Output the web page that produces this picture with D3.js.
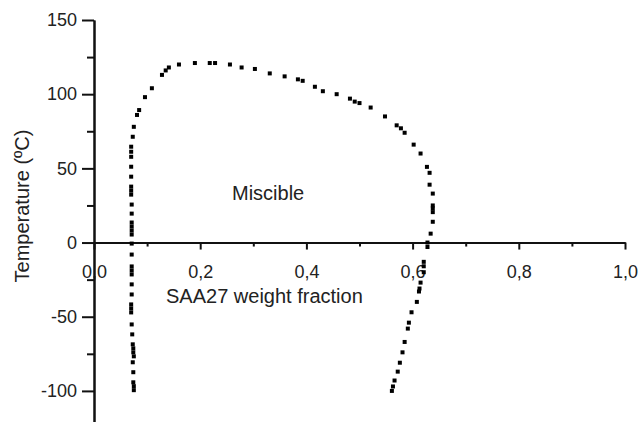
<!DOCTYPE html>
<html>
<head>
<meta charset="utf-8">
<script src="https://cdn.jsdelivr.net/npm/d3@7"></script>
<style>
	body { margin: 0; background: #fff; }
	svg { display: block; }
	text { font-family: "Liberation Sans", Arial, sans-serif; fill: #222; }
</style>
</head>
<body>
<svg class="viz" width="639" height="422"></svg>
<script>
// Cloud point curve (weight fraction / temperature in degC)
const fraction = [
	0.075, 0.075, 0.074, 0.074, 0.073, 0.075, 0.074, 0.074, 0.073, 0.072,
	0.071, 0.070, 0.070, 0.070, 0.071, 0.071, 0.071, 0.071, 0.071, 0.071,
	0.071, 0.071, 0.071, 0.071, 0.071, 0.071, 0.071, 0.070, 0.070, 0.070,
	0.070, 0.070, 0.070, 0.070, 0.070, 0.073, 0.075,
	0.081, 0.085, 0.096, 0.109, 0.128, 0.135, 0.141, 0.160, 0.190, 0.218,
	0.228, 0.256, 0.278, 0.303, 0.331, 0.359, 0.384, 0.393, 0.416, 0.431,
	0.457, 0.482, 0.491, 0.500, 0.521, 0.548, 0.570, 0.578, 0.585, 0.602,
	0.615, 0.627, 0.632, 0.632, 0.638, 0.638, 0.638, 0.638, 0.638, 0.634,
	0.628, 0.628, 0.621, 0.621, 0.621, 0.615, 0.613, 0.612, 0.608, 0.598,
	0.593, 0.591, 0.585, 0.581, 0.576, 0.572, 0.566, 0.563, 0.561
];
const temperature = [
	-99.5, -96.8, -94.2, -87.4, -80.7, -76.7, -74.0, -71.3, -68.6, -61.9,
	-55.2, -47.1, -44.4, -41.7, -35.0, -28.2, -21.5, -18.8, -16.1, -8.1,
	-0.7, 5.4, 8.1, 10.8, 13.5, 19.5, 25.6, 32.3, 35.0, 37.7,
	44.4, 51.1, 57.8, 61.2, 64.6, 71.3, 78.0,
	86, 89.3, 98, 104, 113, 116, 118, 120, 121, 121,
	121, 120, 118, 117, 114, 112, 110, 109, 105, 102,
	100, 97, 95, 94, 91, 85, 79, 77, 74, 66,
	60, 51, 47, 39, 33, 25, 23, 20.5, 14, 6,
	0, -3, -13, -16, -20, -27, -31, -33, -40, -47,
	-54, -58, -67, -74, -81, -87, -93, -97, -100
];

const xMajor = [0, 0.2, 0.4, 0.6, 0.8, 1.0];
const xMinor = [0.1, 0.3, 0.5, 0.7, 0.9];
const yMajor = [-100, -50, 0, 50, 100, 150];
const yMinor = [-125, -75, -25, 25, 75, 125];

const data = fraction.map((f, i) => ({ f: f, t: temperature[i] }));

let svg = d3.select(".viz");

let x = d3.scaleLinear().domain([0, 1]).range([94, 625]);
let y = d3.scaleLinear().domain([-125, 150]).range([428, 20]);

let comma = (d) => d3.format(".1f")(d).replace(".", ",");
let plain = (d) => String(d); // keep the ascii hyphen for negatives

// minor ticks first so the major axis sits on top
svg.append("g").attr("class", "xminor")
	.attr("transform", "translate(0," + y(0) + ")")
	.call(d3.axisBottom(x).tickValues(xMinor).tickSize(4).tickSizeOuter(0).tickFormat(""));

svg.append("g").attr("class", "yminor")
	.attr("transform", "translate(" + x(0) + ",0)")
	.call(d3.axisLeft(y).tickValues(yMinor).tickSize(7).tickSizeOuter(0).tickFormat(""));

svg.append("g").attr("class", "axisx")
	.attr("transform", "translate(0," + y(0) + ")")
	.call(d3.axisBottom(x).tickValues(xMajor).tickSize(7).tickSizeOuter(0)
		.tickPadding(16).tickFormat(comma));

svg.append("g").attr("class", "axisy")
	.attr("transform", "translate(" + x(0) + ",0)")
	.call(d3.axisLeft(y).tickValues(yMajor).tickSize(12).tickSizeOuter(0)
		.tickPadding(5).tickFormat(plain));

svg.selectAll(".axisx, .axisy, .xminor, .yminor").selectAll("path, line")
	.attr("stroke", "#111").attr("stroke-width", 2);
svg.selectAll(".axisx text, .axisy text")
	.attr("fill", "#222")
	.style("font-size", "18px")
	.style("font-family", "'Liberation Sans', Arial, sans-serif");

// data markers (small squares)
svg.append("g").attr("class", "points")
	.selectAll("rect")
	.data(data)
	.join("rect")
	.attr("x", (d) => x(d.f) - 2)
	.attr("y", (d) => y(d.t) - 2)
	.attr("width", 4)
	.attr("height", 4)
	.attr("fill", "#000");

// titles
svg.append("text")
	.attr("x", 166).attr("y", 303)
	.style("font-size", "20px")
	.text("SAA27 weight fraction");

svg.append("text")
	.attr("transform", "translate(29,206)rotate(-90)")
	.attr("text-anchor", "middle")
	.style("font-size", "20px")
	.text("Temperature (ºC)");

svg.append("text")
	.attr("x", 232).attr("y", 200)
	.style("font-size", "20px")
	.text("Miscible");
</script>
</body>
</html>
